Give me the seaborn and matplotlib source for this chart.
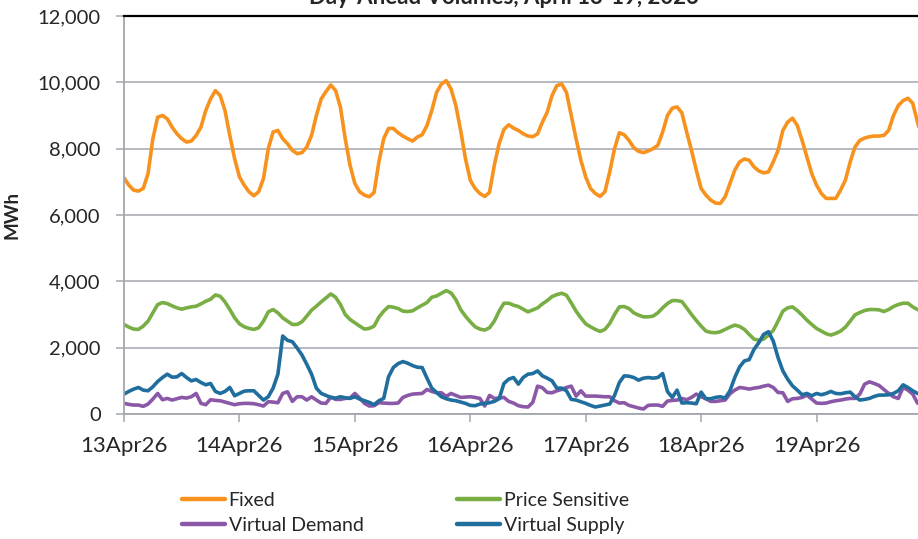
import numpy as np
import pandas as pd
import matplotlib
matplotlib.use("Agg")
import matplotlib.pyplot as plt
from matplotlib.lines import Line2D
import seaborn as sns

# hourly cleared MWh, 13 Apr 2026 00:00 onwards
day_labels = ["13Apr26", "14Apr26", "15Apr26", "16Apr26", "17Apr26", "18Apr26", "19Apr26"]

fixed = [
    7120, 6900, 6750, 6720, 6800, 7250, 8300, 8950, 9000, 8900, 8650, 8450, 8300, 8200, 8230, 8400, 8650, 9150, 9500, 9750, 9600, 9150, 8400, 7700,
    7150, 6900, 6700, 6580, 6700, 7100, 8000, 8500, 8550, 8300, 8150, 7950, 7850, 7880, 8050, 8400, 9000, 9500, 9720, 9920, 9750, 9250, 8300, 7500,
    6950, 6700, 6600, 6550, 6680, 7600, 8300, 8610, 8610, 8480, 8380, 8300, 8230, 8350, 8420, 8700, 9150, 9700, 9950, 10050, 9800, 9300, 8550, 7700,
    7050, 6800, 6650, 6560, 6680, 7500, 8150, 8580, 8720, 8620, 8550, 8450, 8380, 8360, 8450, 8800, 9100, 9600, 9900, 9950, 9700, 9000, 8300, 7650,
    7150, 6800, 6650, 6560, 6700, 7300, 8000, 8480, 8420, 8250, 8030, 7920, 7880, 7930, 8000, 8100, 8500, 9000, 9220, 9260, 9080, 8500, 7950, 7350,
    6800, 6600, 6450, 6360, 6350, 6550, 6950, 7350, 7600, 7690, 7650, 7450, 7330, 7270, 7300, 7600, 7950, 8550, 8800, 8920, 8700, 8250, 7750, 7250,
    6900, 6650, 6500, 6500, 6500, 6750, 7050, 7600, 8050, 8250, 8320, 8360, 8380, 8380, 8400, 8550, 9000, 9300, 9450, 9520, 9370, 8800, 8300, 7800,
]
price_sensitive = [
    2700, 2620, 2560, 2550, 2650, 2800, 3050, 3300, 3360, 3330, 3260, 3200, 3160, 3200, 3230, 3250, 3320, 3400, 3460, 3590, 3550, 3380, 3150, 2900,
    2720, 2630, 2580, 2550, 2600, 2800, 3080, 3150, 3050, 2900, 2800, 2700, 2700, 2780, 2950, 3130, 3250, 3380, 3500, 3620, 3520, 3300, 3000, 2850,
    2750, 2650, 2560, 2580, 2650, 2920, 3100, 3240, 3220, 3180, 3100, 3090, 3110, 3200, 3280, 3360, 3520, 3560, 3640, 3720, 3650, 3450, 3150, 2950,
    2780, 2630, 2560, 2530, 2600, 2800, 3100, 3340, 3340, 3280, 3240, 3160, 3080, 3140, 3200, 3320, 3420, 3540, 3600, 3640, 3580, 3350, 3100, 2900,
    2720, 2630, 2550, 2490, 2550, 2730, 3000, 3230, 3240, 3180, 3050, 2980, 2930, 2930, 2950, 3050, 3200, 3330, 3420, 3420, 3390, 3200, 3000, 2820,
    2650, 2500, 2460, 2450, 2480, 2550, 2620, 2680, 2640, 2550, 2400, 2260, 2220, 2260, 2380, 2520, 2800, 3100, 3200, 3230, 3120, 2980, 2830, 2700,
    2580, 2500, 2420, 2380, 2430, 2500, 2620, 2800, 2990, 3060, 3120, 3150, 3150, 3140, 3090, 3150, 3240, 3300, 3340, 3340, 3230, 3150, 3100, 3050,
]
virtual_demand = [
    320, 290, 270, 270, 230, 300, 450, 620, 430, 470, 420, 460, 500, 480, 520, 620, 320, 280, 430, 410, 400, 360, 320, 280,
    310, 320, 320, 310, 280, 240, 370, 360, 340, 620, 670, 380, 520, 520, 420, 520, 420, 330, 320, 510, 440, 440, 470, 480,
    620, 480, 320, 240, 250, 340, 330, 320, 320, 330, 500, 560, 600, 610, 620, 740, 680, 640, 640, 530, 620, 560, 500, 510,
    520, 500, 470, 240, 560, 470, 480, 500, 380, 330, 250, 220, 210, 350, 840, 790, 650, 640, 700, 740, 800, 840, 540, 700,
    540, 540, 540, 530, 520, 520, 400, 330, 340, 260, 220, 180, 150, 260, 270, 270, 230, 390, 410, 420, 470, 430, 500, 600,
    520, 460, 380, 380, 400, 420, 610, 720, 800, 780, 750, 780, 800, 840, 870, 800, 650, 640, 380, 460, 470, 500, 570, 450,
    330, 320, 330, 370, 400, 420, 450, 470, 470, 600, 900, 970, 920, 860, 740, 620, 520, 470, 800, 720, 600, 330, 300, 280,
]
virtual_supply = [
    600, 680, 750, 800, 720, 700, 820, 980, 1100, 1200, 1110, 1120, 1220, 1100, 1000, 1040, 950, 880, 920, 680, 620, 680, 800, 550,
    620, 690, 700, 700, 560, 420, 520, 780, 1200, 2350, 2220, 2180, 1990, 1780, 1500, 1200, 780, 620, 560, 500, 480, 520, 490, 470,
    520, 450, 400, 350, 280, 400, 470, 1120, 1400, 1520, 1580, 1530, 1460, 1410, 1400, 1080, 780, 650, 520, 460, 420, 400, 360, 320,
    260, 250, 300, 320, 340, 380, 460, 920, 1050, 1100, 900, 1100, 1200, 1220, 1300, 1150, 1080, 1000, 780, 780, 700, 440, 420, 370,
    320, 260, 210, 240, 270, 300, 560, 950, 1150, 1140, 1100, 1020, 1080, 1100, 1080, 1100, 1220, 680, 500, 720, 330, 340, 330, 310,
    660, 460, 460, 500, 520, 480, 700, 1100, 1420, 1600, 1640, 1950, 2150, 2400, 2480, 2200, 1700, 1300, 1050, 850, 720, 580, 620, 550,
    620, 580, 620, 680, 620, 610, 640, 660, 520, 420, 440, 470, 530, 570, 570, 580, 620, 700, 880, 800, 700, 620, 580, 560,
]

series_names = ["Fixed", "Price Sensitive", "Virtual Demand", "Virtual Supply"]
series_colors = ["#F7921E", "#78AE43", "#8B58A8", "#1F6E9D"]
palette = dict(zip(series_names, series_colors))

hours = np.arange(len(fixed))
wide = pd.DataFrame({"hour": hours, "Fixed": fixed, "Price Sensitive": price_sensitive,
                     "Virtual Demand": virtual_demand, "Virtual Supply": virtual_supply})
df = wide.melt(id_vars="hour", var_name="type", value_name="mwh")
df["day"] = df["hour"] / 24.0

sns.set_style("white")
plt.rcParams["font.family"] = ["Lato", "DejaVu Sans"]

grey = "#A3A8AD"
fig = plt.figure(figsize=(9.18, 5.39), dpi=100)
ax = fig.add_axes([124 / 918, 1 - 414 / 539, 1 - 124 / 918, (414 - 16) / 539])

sns.lineplot(data=df, x="day", y="mwh", hue="type", hue_order=series_names,
             palette=palette, linewidth=2.6, ax=ax, legend=False)

ax.set_xlim(0, 165.1 / 24)
ax.set_ylim(0, 12000)
ax.set_yticks(range(0, 12001, 2000))
ax.set_yticklabels([f"{v:,}" for v in range(0, 12001, 2000)], fontsize=14.5)
ax.set_xticks(range(len(day_labels)))
ax.set_xticklabels(day_labels, fontsize=16)
ax.set_xlabel("")
ax.set_ylabel("MWh", fontsize=13.5, fontweight="bold")
ax.yaxis.set_label_coords(-104 / 794, 0.5)

ax.yaxis.grid(True, color=grey, linewidth=1.1)
ax.xaxis.grid(False)
ax.set_axisbelow(True)
ax.spines["right"].set_visible(False)
ax.spines["top"].set_visible(True)
ax.spines["top"].set_color("black")
ax.spines["top"].set_linewidth(1.6)
ax.spines["left"].set_color(grey)
ax.spines["bottom"].set_color(grey)
ax.spines["left"].set_linewidth(1.3)
ax.spines["bottom"].set_linewidth(1.3)
ax.tick_params(axis="y", direction="out", length=5.8, width=1.1, color=grey, pad=11, left=True)
ax.tick_params(axis="x", direction="out", length=5.8, width=1.1, color=grey, pad=10, bottom=True)

order = ["Fixed", "Virtual Demand", "Price Sensitive", "Virtual Supply"]
handles = [Line2D([], [], color=palette[n], linewidth=3.2) for n in order]
fig.legend(handles, order, loc="upper left", bbox_to_anchor=(182 / 918, 1 - 492 / 539),
           ncol=2, frameon=False, fontsize=14, handlelength=2.2, handletextpad=0.2,
           columnspacing=4.8, labelspacing=0.4, borderpad=0, borderaxespad=0)

fig.text(504 / 918, 1 - 4 / 539, "Day-Ahead Volumes, April 13-19, 2026",
         ha="center", va="baseline", fontsize=16, fontweight="bold")

fig.savefig("out.png", dpi=100)
